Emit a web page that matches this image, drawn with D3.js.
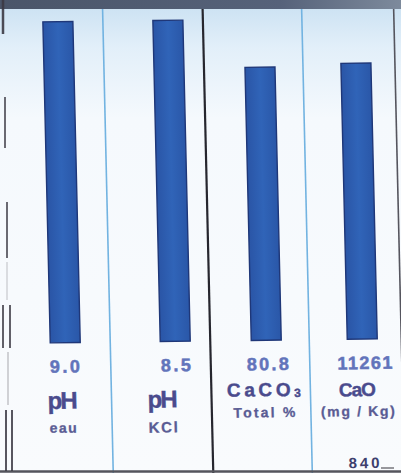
<!DOCTYPE html>
<html>
<head>
<meta charset="utf-8">
<script src="https://cdn.jsdelivr.net/npm/d3@7"></script>
<style>
  html, body { margin: 0; padding: 0; background: #ffffff; }
  svg { display: block; }
</style>
</head>
<body>
<svg id="chart" width="401" height="473"></svg>
<script>
// ---------- data ----------
const categories = ["pH eau", "pH KCl", "CaCO3 Total %", "CaO (mg / Kg)"];
const names = ["pH", "pH", "CaCO₃", "CaO"];
const units = ["eau", "KCl", "Total %", "(mg / Kg)"];
const values = [9.0, 8.5, 80.8, 11261];
const valueLabels = ["9.0", "8.5", "80.8", "11261"];
const scaleMax = [9.0, 8.5, 95, 13100];
const footnotes = ["", "", "", "840"];

// ---------- layout ----------
const W = 401, H = 473;
const barBottom = 341, barTop = 20, barW = 30;
const kx = 0.023, ky = -0.012; // slight photo tilt
const svg = d3.select("#chart");

const defs = svg.append("defs");
const bg = defs.append("linearGradient").attr("id", "bg").attr("x1", 0).attr("y1", 0).attr("x2", 0).attr("y2", 1);
bg.append("stop").attr("offset", "0").attr("stop-color", "#c9e0f2");
bg.append("stop").attr("offset", "0.1").attr("stop-color", "#e2eff9");
bg.append("stop").attr("offset", "0.25").attr("stop-color", "#f5f9fd");
bg.append("stop").attr("offset", "1").attr("stop-color", "#f9fbfd");
const band = defs.append("linearGradient").attr("id", "band").attr("x1", 0).attr("y1", 0).attr("x2", 1).attr("y2", 0);
band.append("stop").attr("offset", "0").attr("stop-color", "#4a5569");
band.append("stop").attr("offset", "0.7").attr("stop-color", "#56627a");
band.append("stop").attr("offset", "1").attr("stop-color", "#7d8a9c");
const barG = defs.append("linearGradient").attr("id", "barg").attr("x1", 0).attr("y1", 0).attr("x2", 1).attr("y2", 0);
barG.append("stop").attr("offset", "0").attr("stop-color", "#2a55a6");
barG.append("stop").attr("offset", "0.5").attr("stop-color", "#3064b8");
barG.append("stop").attr("offset", "1").attr("stop-color", "#2a57a8");

svg.append("rect").attr("x", 0).attr("y", 0).attr("width", W).attr("height", H).attr("fill", "url(#bg)");

const g = svg.append("g")
  .attr("transform", `matrix(1,${ky},${kx},1,${-kx * 200},${-ky * 200})`);

// scales
const xBar = d3.scaleOrdinal().domain(categories).range([62, 172, 263, 359]);
const xVal = d3.scaleOrdinal().domain(categories).range([61, 172, 264, 361]);
const xLab = d3.scaleOrdinal().domain(categories).range([58, 158, 259.5, 353]);
const yScales = categories.map((c, i) => d3.scaleLinear().domain([0, scaleMax[i]]).range([barBottom, barTop]));

// dividers
const dividers = [
  { x: 107, color: "#72b3e1", w: 1.6 },
  { x: 207, color: "#26262e", w: 2.2 },
  { x: 306, color: "#72b3e1", w: 1.6 },
  { x: 398, color: "#55555e", w: 1.6 }
];
g.selectAll("line.div").data(dividers).join("line")
  .attr("class", "div")
  .attr("x1", d => d.x).attr("x2", d => d.x)
  .attr("y1", 0).attr("y2", 480)
  .attr("stroke", d => d.color).attr("stroke-width", d => d.w);

// bars
g.selectAll("rect.bar").data(categories).join("rect")
  .attr("class", "bar")
  .attr("x", d => xBar(d) - barW / 2)
  .attr("width", barW)
  .attr("y", (d, i) => yScales[i](values[i]))
  .attr("height", (d, i) => barBottom - yScales[i](values[i]))
  .attr("fill", "url(#barg)")
  .attr("stroke", "#1f3778")
  .attr("stroke-width", 1.4);

const font = "'Liberation Sans', Arial, sans-serif";

// value labels
const valW = [30, 30, 42, 55];
g.selectAll("text.val").data(categories).join("text")
  .attr("class", "val")
  .attr("x", d => xVal(d)).attr("y", 371)
  .attr("text-anchor", "middle")
  .attr("font-family", font).attr("font-weight", "bold").attr("font-size", 18)
  .attr("fill", "#6274bb").attr("stroke", "#6274bb").attr("stroke-width", 0.5)
  .attr("textLength", (d, i) => valW[i]).attr("lengthAdjust", "spacing")
  .text((d, i) => valueLabels[i]);

// names
const nameSize = [24, 24, 19, 19];
const nameY = [407, 407, 397, 398];
const nameW = [30, 30, 74, 37];
g.selectAll("text.name").data(categories).join("text")
  .attr("class", "name")
  .attr("x", d => xLab(d)).attr("y", (d, i) => nameY[i])
  .attr("text-anchor", "middle")
  .attr("font-family", font).attr("font-weight", "bold")
  .attr("font-size", (d, i) => nameSize[i])
  .attr("fill", "#4a4b8d").attr("stroke", "#4a4b8d").attr("stroke-width", 0.4)
  .attr("textLength", (d, i) => nameW[i]).attr("lengthAdjust", "spacing")
  .each(function(d, i) {
    const t = d3.select(this);
    const nm = names[i];
    const idx = nm.indexOf("₃");
    if (idx >= 0) {
      t.append("tspan").text(nm.slice(0, idx));
      t.append("tspan").attr("font-size", 12).attr("dy", 1).text("3");
    } else {
      t.text(nm);
    }
  });

// units
const unitSize = [14, 15, 14, 14];
const unitY = [431, 432, 418, 418];
const unitW = [27, 29, 62, 74];
g.selectAll("text.unit").data(categories).join("text")
  .attr("class", "unit")
  .attr("x", d => xLab(d)).attr("y", (d, i) => unitY[i])
  .attr("text-anchor", "middle")
  .attr("font-family", font).attr("font-weight", "bold")
  .attr("font-size", (d, i) => unitSize[i])
  .attr("fill", "#5a5c94").attr("stroke", "#5a5c94").attr("stroke-width", 0.3)
  .attr("textLength", (d, i) => unitW[i]).attr("lengthAdjust", "spacing")
  .text((d, i) => units[i]);

// footnote
g.selectAll("text.foot").data(categories.filter((d, i) => footnotes[i])).join("text")
  .attr("class", "foot")
  .attr("x", d => xLab(d) + 5).attr("y", 470)
  .attr("text-anchor", "middle")
  .attr("font-family", font).attr("font-weight", "bold").attr("font-size", 15)
  .attr("fill", "#3e3f6e")
  .attr("textLength", 31).attr("lengthAdjust", "spacing")
  .text(d => footnotes[categories.indexOf(d)]);

// top band (untransformed)
svg.append("rect").attr("x", 0).attr("y", 0).attr("width", W).attr("height", 9).attr("fill", "url(#band)");

// bottom line
svg.append("line").attr("x1", 0).attr("x2", W).attr("y1", 471.5).attr("y2", 471.5)
  .attr("stroke", "#55555c").attr("stroke-width", 2.5);
svg.append("line").attr("x1", 381).attr("x2", 394).attr("y1", 468).attr("y2", 468)
  .attr("stroke", "#55555c").attr("stroke-width", 1.2);

// left frame fragments
const leftSegs = [
  { x: 3, y1: 0, y2: 34, w: 2.5, o: 0.9 },
  { x: 5, y1: 97, y2: 148, w: 2, o: 0.75 },
  { x: 7, y1: 202, y2: 258, w: 2, o: 0.75 },
  { x: 7, y1: 262, y2: 300, w: 1, o: 0.3 },
  { x: 3, y1: 305, y2: 348, w: 2, o: 0.8 },
  { x: 10, y1: 305, y2: 348, w: 2, o: 0.8 },
  { x: 8, y1: 352, y2: 405, w: 1.2, o: 0.35 },
  { x: 6, y1: 410, y2: 471, w: 2, o: 0.85 },
  { x: 12, y1: 410, y2: 471, w: 2, o: 0.85 }
];
svg.selectAll("line.left").data(leftSegs).join("line")
  .attr("class", "left")
  .attr("x1", d => d.x).attr("x2", d => d.x)
  .attr("y1", d => d.y1).attr("y2", d => d.y2)
  .attr("stroke", "#3c3a44").attr("stroke-width", d => d.w).attr("opacity", d => d.o);
</script>
</body>
</html>
